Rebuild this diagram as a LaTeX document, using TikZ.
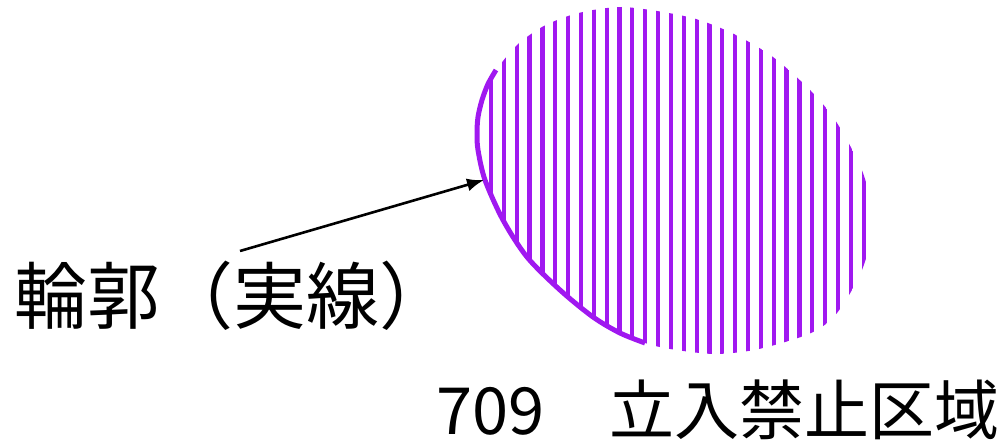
\documentclass[tikz,border=0pt]{standalone}
\usepackage{fontspec}
\setmainfont{Noto Sans CJK JP}
\definecolor{ZonePurple}{RGB}{160,24,240}
\usetikzlibrary{arrows.meta}
\tikzset{>=latex}

\begin{document}
\begin{tikzpicture}[x=1pt,y=-1pt,>={Latex[length=17pt,width=13pt]}]
        \useasboundingbox (0,0) rectangle (1007,441);
        % hatched zone
        \begin{scope}
            \clip plot[smooth cycle] coordinates {(496,70) (517,45) (542,27) (568,16) (593,10) (622,7) (657,11) (696,19) (734,34) (773,57) (811,91) (837,123) (863,173) (873,222) (862,270) (837,313) (811,333) (759,349) (715,354) (670,349) (645,343) (620,333) (593,317) (560,290) (527,257) (503,220) (485,180) (478,150) (477,133) (478,117) (482,100) (488,84)};
            \foreach \i in {0,...,29}
                \draw[ZonePurple,line width=4.2pt] ({491+12.85*\i},0) -- ++(0,370);
        \end{scope}
        % solid outline, left part only
        \draw[ZonePurple,line width=5pt] plot[smooth] coordinates {(645,343) (620,333) (593,317) (560,290) (527,257) (503,220) (485,180) (478,150) (477,133) (478,117) (482,100) (488,84) (496,70)};
        \coordinate (tip) at (484,180);
        \coordinate (tail) at (240,251);
        \node[anchor=west,inner sep=0pt,font=\fontsize{73}{80}\selectfont] (outline) at (14,296) {輪郭（実線）};
        \node[anchor=west,inner sep=0pt,font=\fontsize{65}{70}\selectfont] (zone) at (436,410) {709　立入禁止区域};
        \draw[->,line width=2.6pt] (tail) -- (tip);
\end{tikzpicture}
\end{document}
